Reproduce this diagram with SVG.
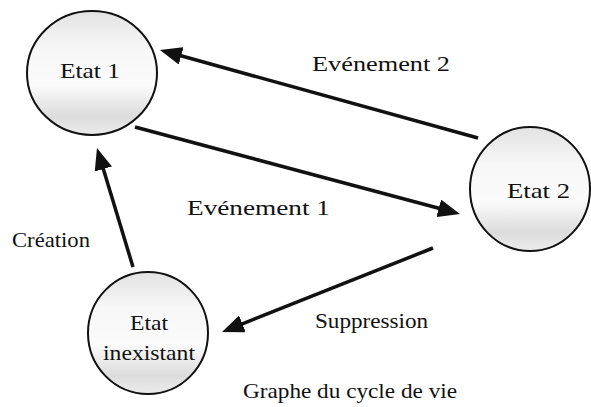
<svg xmlns="http://www.w3.org/2000/svg" width="591" height="407" viewBox="0 0 591 407">
<style>
.node{stroke:#111;stroke-width:2;fill:url(#g)}
.lbl{font-family:"Liberation Serif","Times New Roman",serif;font-size:22px;fill:#111}
.edge{stroke:#111;stroke-width:3.5;fill:none;marker-end:url(#ah)}
</style>
<defs>
<linearGradient id="g" x1="0" y1="0" x2="0" y2="1">
<stop offset="0" stop-color="#e2e2e2"/>
<stop offset="0.3" stop-color="#f7f7f7"/>
<stop offset="0.6" stop-color="#fbfbfb"/>
<stop offset="0.85" stop-color="#dcdcdc"/>
<stop offset="1" stop-color="#ececec"/>
</linearGradient>
<marker id="ah" viewBox="0 0 22 18" refX="4" refY="9" markerWidth="22" markerHeight="18" markerUnits="userSpaceOnUse" orient="auto">
<path d="M0,0 L22,9 L0,18 z" fill="#111"/>
</marker>
</defs>
<rect width="591" height="407" fill="#fff"/>
<g id="connectors">
<line class="edge" x1="478" y1="138" x2="177.3" y2="54.8"/>
<line class="edge" x1="135" y1="127" x2="442.6" y2="209.3"/>
<line class="edge" x1="133" y1="267" x2="102.2" y2="165.2"/>
<line class="edge" x1="433" y1="248" x2="238.7" y2="325.3"/>
<text class="lbl" x="312" y="71" textLength="138" lengthAdjust="spacingAndGlyphs">Evénement 2</text>
<text class="lbl" x="187" y="215" textLength="143" lengthAdjust="spacingAndGlyphs">Evénement 1</text>
<text class="lbl" x="12" y="247" textLength="78" lengthAdjust="spacingAndGlyphs">Création</text>
<text class="lbl" x="315" y="328" textLength="113" lengthAdjust="spacingAndGlyphs">Suppression</text>
</g>
<g id="etat1">
<ellipse class="node" cx="92" cy="73" rx="65" ry="62"/>
<text class="lbl" x="60" y="78" textLength="60" lengthAdjust="spacingAndGlyphs">Etat 1</text>
</g>
<g id="etat2">
<ellipse class="node" cx="530" cy="189" rx="60" ry="62"/>
<text class="lbl" x="507" y="198" textLength="63" lengthAdjust="spacingAndGlyphs">Etat 2</text>
</g>
<g id="etat-inexistant">
<ellipse class="node" cx="148" cy="333" rx="60" ry="61"/>
<text class="lbl" x="130" y="330" textLength="38" lengthAdjust="spacingAndGlyphs">Etat</text>
<text class="lbl" x="103" y="360" textLength="92" lengthAdjust="spacingAndGlyphs">inexistant</text>
</g>
<text class="lbl" x="243" y="398" textLength="214" lengthAdjust="spacingAndGlyphs">Graphe du cycle de vie</text>
</svg>
